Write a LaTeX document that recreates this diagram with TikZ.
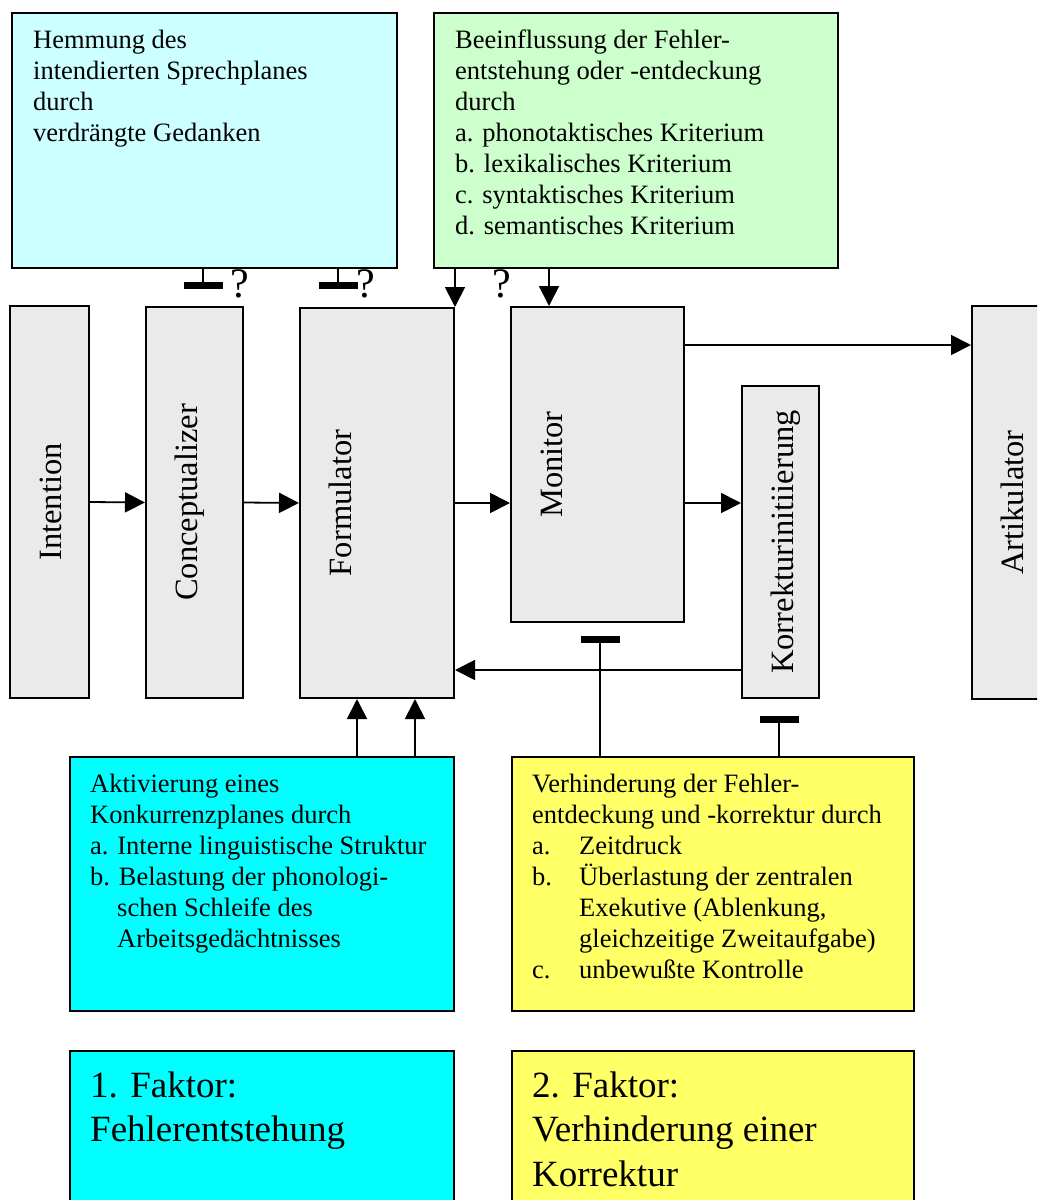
\documentclass[tikz,border=0pt]{standalone}
\usepackage{fontspec}
\setmainfont{Liberation Serif}
\usepackage{tikz}
\usetikzlibrary{arrows.meta,calc,positioning}
\definecolor{hellcyan}{HTML}{CCFFFF}
\definecolor{hellgruen}{HTML}{CCFFCC}
\definecolor{grau}{HTML}{EAEAEA}
\definecolor{tuerkis}{HTML}{00FFFF}
\definecolor{gelb}{HTML}{FFFF66}

\begin{document}
\begin{tikzpicture}[x=1pt,y=-1pt,
  block/.style={draw,line width=2pt,anchor=north west,inner sep=0pt},
  modul/.style={block,fill=grau},
  txt/.style={anchor=base west,inner sep=0pt,font=\fontsize{26.5}{31}\selectfont},
  bigtxt/.style={anchor=base west,inner sep=0pt,font=\fontsize{37}{44.5}\selectfont},
  vlab/.style={rotate=90,anchor=base,inner sep=0pt,font=\fontsize{32.5}{38}\selectfont},
  arr/.style={line width=1.8pt,-{Triangle[length=20pt,width=20pt]}},
  stopp/.style={line width=1.8pt,-{Bar[width=39pt,line width=7pt]}},
  frage/.style={inner sep=0pt,font=\fontsize{42}{48}\selectfont}]
\clip (0,0) rectangle (1037,1200);

% Einflussfaktoren oben
\node[block,fill=hellcyan,minimum width=385,minimum height=255] (hemm) at (11,12) {};
\node[block,fill=hellgruen,minimum width=404,minimum height=255] (beein) at (433,12) {};
\node[txt] (hemmtxt) at ([shift={(22,36)}]hemm.north west) {\begin{tabular}[t]{@{}l@{}}
Hemmung des\\ intendierten Sprechplanes\\ durch\\ verdrängte Gedanken\end{tabular}};
\node[txt] (beeintxt) at ([shift={(22,36)}]beein.north west) {\begin{tabular}[t]{@{}l@{}}
Beeinflussung der Fehler-\\ entstehung oder -entdeckung\\ durch\\
a. phonotaktisches Kriterium\\ b. lexikalisches Kriterium\\
c. syntaktisches Kriterium\\ d. semantisches Kriterium\end{tabular}};

% Verarbeitungsstufen
\node[modul,minimum width=79,minimum height=392] (intent) at (9,305) {};
\node[modul,minimum width=97,minimum height=391] (concept) at (145,306) {};
\node[modul,minimum width=154,minimum height=390] (form) at (299,307) {};
\node[modul,minimum width=173,minimum height=315] (mon) at (510,306) {};
\node[modul,minimum width=77,minimum height=312] (korr) at (741,385) {};
\node[modul,minimum width=90,minimum height=393] (artik) at (971,305) {};
\node[vlab] (intentlab) at ([shift={(52,0)}]intent.west) {Intention};
\node[vlab] (conceptlab) at ([shift={(52,0)}]concept.west) {Conceptualizer};
\node[vlab] (formlab) at ([shift={(52,0)}]form.west) {Formulator};
\node[vlab] (monlab) at ([shift={(52,0)}]mon.west) {Monitor};
\node[vlab] (korrlab) at ([shift={(52,0)}]korr.west) {Korrekturinitiierung};
\node[vlab] (artiklab) at ([shift={(52,0)}]artik.west) {Artikulator};

% Faktoren unten
\node[block,fill=tuerkis,minimum width=384,minimum height=254] (akt) at (69,756) {};
\node[block,fill=gelb,minimum width=402,minimum height=254] (verh) at (511,756) {};
\node[txt] (akttxt) at ([shift={(21,36)}]akt.north west) {\begin{tabular}[t]{@{}l@{}}
Aktivierung eines\\ Konkurrenzplanes durch\\ a. Interne linguistische Struktur\\
b. Belastung der phonologi-\\ \hspace*{27pt}schen Schleife des\\
\hspace*{27pt}Arbeitsgedächtnisses\end{tabular}};
\node[txt] (verhtxt) at ([shift={(21,36)}]verh.north west) {\begin{tabular}[t]{@{}l@{}}
Verhinderung der Fehler-\\ entdeckung und -korrektur durch\\
\makebox[47pt][l]{a.}Zeitdruck\\ \makebox[47pt][l]{b.}Überlastung der zentralen\\
\hspace*{47pt}Exekutive (Ablenkung,\\ \hspace*{47pt}gleichzeitige Zweitaufgabe)\\
\makebox[47pt][l]{c.}unbewußte Kontrolle\end{tabular}};
\node[block,fill=tuerkis,minimum width=384,minimum height=170] (fak1) at (69,1050) {};
\node[block,fill=gelb,minimum width=402,minimum height=170] (fak2) at (511,1050) {};
\node[bigtxt] (fak1txt) at ([shift={(21,47)}]fak1.north west) {\begin{tabular}[t]{@{}l@{}}
1. Faktor:\\ Fehlerentstehung\end{tabular}};
\node[bigtxt] (fak2txt) at ([shift={(21,47)}]fak2.north west) {\begin{tabular}[t]{@{}l@{}}
2. Faktor:\\ Verhinderung einer\\ Korrektur\end{tabular}};

% Pfeile
\draw[arr] (intent.east) -- (concept.west);
\draw[arr] (concept.east) -- (form.west);
\draw[arr] (form.east) -- (form.east -| mon.west);
\draw[arr] (mon.east |- form.east) -- (korr.west |- form.east);
\draw[arr] ([shift={(0,39)}]mon.north east) -- ([shift={(0,39)}]mon.north east -| artik.west);
\draw[arr] ([shift={(0,-29)}]korr.south west) -- ([shift={(0,-29)}]korr.south west -| form.east);
\draw[arr] (form.north east |- beein.south) -- (form.north east);
\draw[arr] ([shift={(39,0)}]mon.north west |- beein.south) -- ([shift={(39,0)}]mon.north west);
\draw[arr] ([shift={(58,0)}]form.south west |- akt.north) -- ([shift={(58,0)}]form.south west);
\draw[arr] ([shift={(116,0)}]form.south west |- akt.north) -- ([shift={(116,0)}]form.south west);

% Hemmungen
\coordinate (h1) at (203,289);
\coordinate (h2) at (338,289);
\coordinate (h3) at (600,636);
\coordinate (h4) at (779,716);
\draw[stopp] (hemm.south -| h1) -- (h1);
\draw[stopp] (hemm.south -| h2) -- (h2);
\draw[stopp] (verh.north -| h3) -- (h3);
\draw[stopp] (verh.north -| h4) -- (h4);
\node[frage] (q1) at (240,284) {?};
\node[frage] (q2) at (366,284) {?};
\node[frage] (q3) at (502,284) {?};
\end{tikzpicture}
\end{document}
